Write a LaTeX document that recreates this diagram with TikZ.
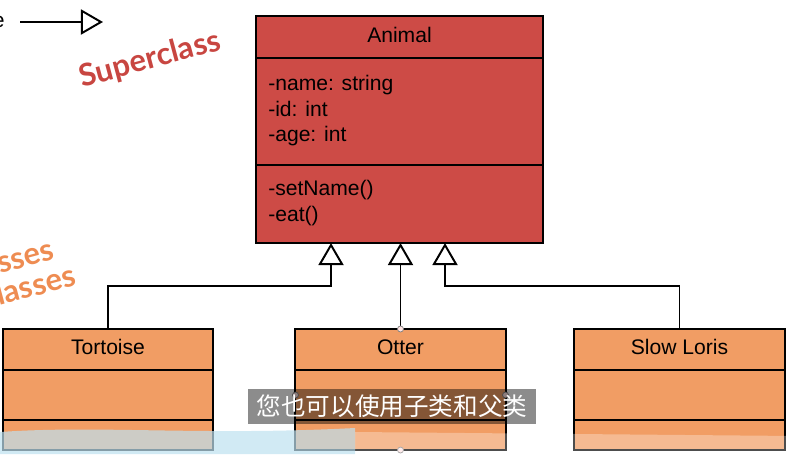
\documentclass[tikz,border=0pt]{standalone}
\usepackage{fontspec}
\setmainfont{Liberation Sans}
\newfontfamily\cjkfont{Noto Sans CJK SC}
\newfontfamily\notefont{Lato}
\usetikzlibrary{positioning,arrows.meta,calc}
\definecolor{animalred}{RGB}{205,75,70}
\definecolor{subclassorange}{RGB}{241,157,100}
\definecolor{superred}{RGB}{200,70,65}
\definecolor{suborange}{RGB}{238,140,82}
\definecolor{washblue}{RGB}{190,225,240}

\begin{document}
\begin{tikzpicture}[
  x=0.025cm, y=-0.025cm,
  every node/.style={font=\fontsize{15}{18.2}\selectfont},
  part/.style={draw=black, line width=1.4pt, rectangle, inner sep=0pt, outer sep=0pt},
  superpart/.style={part, fill=animalred, minimum width=7.175cm},
  subpart/.style={part, fill=subclassorange, minimum width=5.25cm},
  classname/.style={text depth=0.12cm},
  member/.style={anchor=north west, align=left, inner sep=0pt},
  inherit/.style={line width=1.4pt,
    -{Triangle[open, length=0.55cm, width=0.625cm, line width=1.4pt]}},
  note/.style={font=\notefont\bfseries\fontsize{22}{26}\selectfont, rotate=15, inner sep=0pt}
]
  \useasboundingbox (0,0) rectangle (796,454);

  % Oberklasse
  \node[superpart, classname, minimum height=1.05cm, anchor=north] (animal) at (399.5,16) {Animal};
  \node[superpart, minimum height=2.675cm, below=0pt of animal] (animal-attrs) {};
  \node[superpart, minimum height=1.95cm, below=0pt of animal-attrs] (animal-ops) {};
  \node[member] (attr-list) at (268,75) {-name: string\\-id: int\\-age: int};
  \node[member] (op-list) at (268,180) {-setName()\\-eat()};

  % Unterklassen
  \node[subpart, classname, minimum height=1.025cm, anchor=north] (tortoise) at (108,329) {Tortoise};
  \node[subpart, minimum height=1.25cm, below=0pt of tortoise] (tortoise-attrs) {};
  \node[subpart, minimum height=0.75cm, below=0pt of tortoise-attrs] (tortoise-ops) {};

  \node[subpart, classname, minimum height=1.025cm, anchor=north] (otter) at (400.5,329) {Otter};
  \node[subpart, minimum height=1.25cm, below=0pt of otter] (otter-attrs) {};
  \node[subpart, minimum height=0.75cm, below=0pt of otter-attrs] (otter-ops) {};

  \node[subpart, classname, minimum height=1.025cm, anchor=north] (loris) at (679.5,329) {Slow Loris};
  \node[subpart, minimum height=1.25cm, below=0pt of loris] (loris-attrs) {};
  \node[subpart, minimum height=0.75cm, below=0pt of loris-attrs] (loris-ops) {};

  % Vererbungspfeile
  \coordinate (bend-tortoise) at (331,286);
  \coordinate (bend-loris) at (445,286);
  \draw[inherit] (tortoise.north) |- (bend-tortoise) -- (bend-tortoise |- animal-ops.south);
  \draw[inherit] (otter.north) -- (otter.north |- animal-ops.south);
  \draw[inherit] (loris.north) |- (bend-loris) -- (bend-loris |- animal-ops.south);

  % Legende oben links
  \node[anchor=east, inner sep=0pt] (legend-label) at (5,22) {e};
  \coordinate (legend-from) at (20,22);
  \coordinate (legend-to) at (103,22);
  \draw[inherit] (legend-from) -- (legend-to);

  % Notizen
  \node[note, text=superred] (superclass-note) at (150,60) {Superclass};
  \node[note, text=suborange, anchor=base west] (subclass-note) at (0,274) {sses};
  \node[note, text=suborange, anchor=base west] (child-note) at (-1,306) {lasses};

  % Auswahlpunkte
  \foreach \p in {otter.north, otter-attrs.west, otter-attrs.east, otter-ops.south}
    \filldraw[fill=pink!40, draw=gray, line width=0.5pt] (\p) circle (3);

  % Schleier unten
  \fill[washblue, opacity=.7] (0,432) .. controls (100,425) and (200,436) .. (355,428)
    -- (355,454) -- (0,454) -- cycle;
  \fill[white, opacity=.3] (355,432) -- (796,436) -- (796,454) -- (355,454) -- cycle;

  % Untertitel
  \node[fill=black, fill opacity=.45, text opacity=1, text=white, inner sep=0pt,
    minimum width=7.2cm, minimum height=0.875cm,
    font=\cjkfont\fontsize{17.5}{20}\selectfont] (subtitle) at (392,406.5) {您也可以使用子类和父类};
\end{tikzpicture}
\end{document}
